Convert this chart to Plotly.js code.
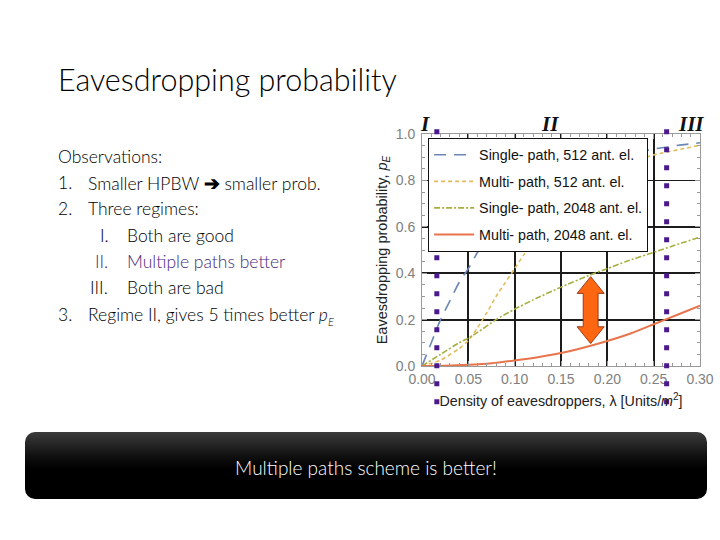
<!DOCTYPE html>
<html>
<head>
<meta charset="utf-8">
<script src="https://cdn.plot.ly/plotly-3.0.1.min.js"></script>
<style>
  html, body { margin: 0; padding: 0; background: #fff; }
  #wrap { position: relative; width: 720px; height: 540px; overflow: hidden; font-family: "Lato", "Open Sans", sans-serif; }
  #chart { position: absolute; left: 0; top: 0; width: 720px; height: 540px; }
  .slide-title { position: absolute; left: 58px; top: 61px; font-size: 30.5px; font-weight: 300; color: #000; white-space: nowrap; }
  .obs { position: absolute; left: 58px; font-size: 17.5px; font-weight: 300; color: #000; white-space: nowrap; line-height: 20px; }
  .purple { color: #46287a; }
  .banner { position: absolute; left: 25px; top: 432px; width: 682px; height: 67px; border-radius: 10px;
            background: linear-gradient(to bottom, #3c3c3c 0%, #111 35%, #000 55%, #000 100%);
            color: #fff; text-align: center; line-height: 72px; font-size: 19px; font-weight: 300; }
</style>
</head>
<body>
<div id="wrap">
  <div id="chart"></div>
  <div class="slide-title">Eavesdropping probability</div>
  <div class="obs" style="top:147px;">Observations:</div>
  <div class="obs" style="top:173px;"><span>1.</span><span style="position:absolute;left:30px;">Smaller HPBW <span style="font-size:19px; font-weight:700;">&#10132;</span> smaller prob.</span></div>
  <div class="obs" style="top:199px;"><span>2.</span><span style="position:absolute;left:30px;">Three regimes:</span></div>
  <div class="obs" style="top:226px; left:100px;"><span>I.</span><span style="position:absolute;left:27px;">Both are good</span></div>
  <div class="obs purple" style="top:252px; left:95px;"><span>II.</span><span style="position:absolute;left:32px;">Multiple paths better</span></div>
  <div class="obs" style="top:278px; left:90px;"><span>III.</span><span style="position:absolute;left:37px;">Both are bad</span></div>
  <div class="obs" style="top:305px;"><span>3.</span><span style="position:absolute;left:30px;">Regime II, gives 5 times better <i>p</i><sub style="font-size:11px;"><i>E</i></sub></span></div>
  <div class="banner">Multiple paths scheme is better!</div>
</div>
<script>
// ---- data ----
const seriesNames = [
  "Single- path, 512 ant. el.",
  "Multi- path, 512 ant. el.",
  "Single- path, 2048 ant. el.",
  "Multi- path, 2048 ant. el."
];
const xSingle512 = [0, 0.01, 0.02, 0.03, 0.04, 0.05, 0.06, 0.07, 0.08, 0.10, 0.12, 0.15, 0.18, 0.20, 0.22, 0.25, 0.28, 0.30];
const ySingle512 = [0, 0.10, 0.20, 0.28, 0.36, 0.42, 0.49, 0.54, 0.59, 0.67, 0.73, 0.81, 0.86, 0.89, 0.91, 0.935, 0.953, 0.962];
const xMulti512 = [0, 0.02, 0.04, 0.05, 0.06, 0.07, 0.08, 0.09, 0.10, 0.11, 0.12, 0.14, 0.16, 0.18, 0.20, 0.22, 0.25, 0.28, 0.30];
const yMulti512 = [0, 0.025, 0.075, 0.11, 0.165, 0.23, 0.30, 0.36, 0.42, 0.48, 0.53, 0.62, 0.70, 0.77, 0.83, 0.87, 0.91, 0.935, 0.952];
const xSingle2048 = [0, 0.02, 0.04, 0.05, 0.06, 0.08, 0.10, 0.12, 0.15, 0.18, 0.20, 0.22, 0.25, 0.28, 0.30];
const ySingle2048 = [0, 0.05, 0.10, 0.12, 0.145, 0.20, 0.245, 0.285, 0.34, 0.39, 0.42, 0.45, 0.49, 0.53, 0.555];
const xMulti2048 = [0, 0.025, 0.05, 0.075, 0.10, 0.125, 0.15, 0.175, 0.20, 0.225, 0.25, 0.275, 0.30];
const yMulti2048 = [0, 0.001, 0.005, 0.012, 0.024, 0.038, 0.056, 0.08, 0.108, 0.14, 0.18, 0.22, 0.26];
const regimeBounds = [0.016, 0.264];
const regimeLabels = ["I", "II", "III"];
const regimeLabelX = [0.003, 0.138, 0.290];
const arrowX = 0.182;
const arrowSpan = [0.097, 0.385];
const xTickVals = [0, 0.05, 0.10, 0.15, 0.20, 0.25, 0.30];
const xTickText = ["0.00", "0.05", "0.10", "0.15", "0.20", "0.25", "0.30"];
const yTickVals = [0, 0.2, 0.4, 0.6, 0.8, 1.0];
const yTickText = ["0.0", "0.2", "0.4", "0.6", "0.8", "1.0"];

const colors = ["#6a88b3", "#e2bb5c", "#a6ae3e", "#e8744c"];
const dashes = ["12px,8px", "4px,3px", "6px,2px,2px,2px", "solid"];
const widths = [1.6, 1.6, 1.6, 2];
const xs = [xSingle512, xMulti512, xSingle2048, xMulti2048];
const ys = [ySingle512, yMulti512, ySingle2048, yMulti2048];

const traces = seriesNames.map((n, i) => ({
  type: "scatter", mode: "lines", name: n, x: xs[i], y: ys[i], legendgroup: "g" + i,
  line: { color: colors[i], dash: dashes[i], width: widths[i], shape: "spline", smoothing: 0.6 },
  hoverinfo: "skip"
}));

// arrow path built from its data anchor
const hw = 0.0146, sw = 0.008, hh = 0.072;
const x0 = arrowX, yb = arrowSpan[0], yt = arrowSpan[1];
const arrowPath = `M ${x0},${yt} L ${x0+hw},${yt-hh} L ${x0+sw},${yt-hh} L ${x0+sw},${yb+hh} L ${x0+hw},${yb+hh} L ${x0},${yb} L ${x0-hw},${yb+hh} L ${x0-sw},${yb+hh} L ${x0-sw},${yt-hh} L ${x0-hw},${yt-hh} Z`;

const shapes = regimeBounds.map(b => ({
  type: "line", xref: "x", yref: "paper", x0: b, x1: b, y0: -0.165, y1: 1.06,
  line: { color: "#4a1a8c", width: 5, dash: "5px,13px" }, layer: "above"
}));
shapes.push({ type: "path", xref: "x", yref: "y", path: arrowPath,
  fillcolor: "#ff6612", line: { color: "#9a3a16", width: 1 }, layer: "above" });

const annotations = regimeLabels.map((t, i) => ({
  x: regimeLabelX[i], xref: "x", y: 1.105, yref: "paper", text: "<b><i>" + t + "</i></b>",
  showarrow: false, font: { family: "Liberation Serif, Times New Roman, serif", size: 21, color: "#111" }
}));

const axisCommon = {
  showline: true, linecolor: "#9a9a9a", linewidth: 1, mirror: "ticks",
  ticks: "inside", ticklen: 5, tickcolor: "#9a9a9a",
  showgrid: true, gridcolor: "#1c1c1c", gridwidth: 1.8, zeroline: false,
  tickfont: { family: "Liberation Sans, Arial, sans-serif", size: 14, color: "#808080" }
};

const layout = {
  width: 720, height: 540,
  margin: { l: 422, r: 20, t: 134, b: 174 },
  paper_bgcolor: "rgba(0,0,0,0)", plot_bgcolor: "#fff",
  showlegend: true,
  legend: { x: 0.022, y: 0.983, xanchor: "left", yanchor: "top", bgcolor: "#fff",
    bordercolor: "#111", borderwidth: 1, itemwidth: 40, traceorder: "grouped", tracegroupgap: 5,
    font: { family: "Liberation Sans, Arial, sans-serif", size: 14.3, color: "#111" } },
  xaxis: Object.assign({}, axisCommon, {
    range: [0, 0.30], tickvals: xTickVals, ticktext: xTickText,
    minor: { dtick: 0.01, ticks: "inside", ticklen: 3, tickcolor: "#9a9a9a", showgrid: false },
    title: { text: "Density of eavesdroppers, λ [Units/<i>m</i><sup>2</sup>]", standoff: 10,
      font: { family: "Liberation Sans, Arial, sans-serif", size: 14.3, color: "#222" } }
  }),
  yaxis: Object.assign({}, axisCommon, {
    range: [0, 1.0], tickvals: yTickVals, ticktext: yTickText, ticklabelstandoff: 3,
    minor: { dtick: 0.05, ticks: "inside", ticklen: 3, tickcolor: "#9a9a9a", showgrid: false },
    title: { text: "Eavesdropping probability, <i>p</i><sub><i>E</i></sub>", standoff: 4,
      font: { family: "Liberation Sans, Arial, sans-serif", size: 14.5, color: "#222" } }
  }),
  shapes: shapes,
  annotations: annotations
};

Plotly.newPlot("chart", traces, layout, { staticPlot: true, displayModeBar: false });
</script>
</body>
</html>
